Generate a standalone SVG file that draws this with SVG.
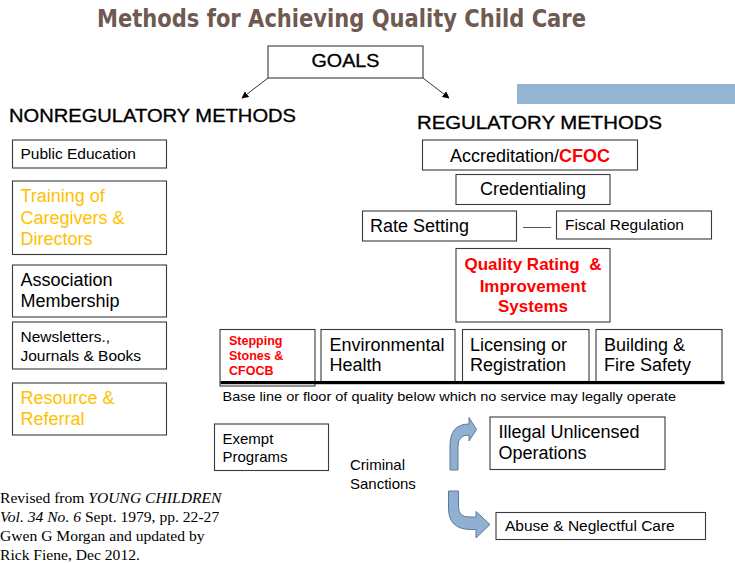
<svg xmlns="http://www.w3.org/2000/svg" width="735" height="563" viewBox="0 0 735 563">
<defs>
<style>
.box{fill:#fff;stroke:#3a3a3a;stroke-width:1.1}
.t{font-family:"Liberation Sans",Arial,sans-serif;fill:#000}
.s15{font-size:15px}
.s155{font-size:15.5px}
.s18{font-size:18px}
.or{fill:#FFC000}
.red{fill:#FF0000}
.b{font-weight:bold}
.h{font-family:"Liberation Sans",Arial,sans-serif;font-size:19px;fill:#000;stroke:#000;stroke-width:0.35}
.cit{font-family:"Liberation Serif","Times New Roman",serif;font-size:15.6px;fill:#000}
.barrow{fill:#8fb0d1;stroke:#5b7b9b;stroke-width:1}
</style>
<marker id="ah" viewBox="0 0 10 10" refX="9" refY="5" markerWidth="7" markerHeight="7" orient="auto" markerUnits="userSpaceOnUse">
<path d="M0,0 L10,5 L0,10 Z" fill="#000"/>
</marker>
</defs>
<rect width="735" height="563" fill="#fff"/>

<text x="97" y="27" font-family="'DejaVu Sans Condensed','DejaVu Sans',sans-serif" font-weight="bold" font-size="25" fill="#6e5a51" textLength="489" lengthAdjust="spacingAndGlyphs">Methods for Achieving Quality Child Care</text>

<rect x="517" y="84" width="218" height="20" fill="#94b4d3"/>

<g id="goals">
<rect class="box" x="268" y="46" width="155" height="32"/>
<text class="h" x="345.5" y="67" text-anchor="middle" textLength="68" lengthAdjust="spacingAndGlyphs">GOALS</text>
</g>

<g id="heading-nonreg">
<text class="h" x="9" y="122" textLength="287" lengthAdjust="spacingAndGlyphs">NONREGULATORY METHODS</text>
</g>
<g id="heading-reg">
<text class="h" x="417" y="128.5" textLength="245" lengthAdjust="spacingAndGlyphs">REGULATORY METHODS</text>
</g>

<g id="connectors">
<line x1="268" y1="78" x2="242" y2="98" stroke="#333" stroke-width="1" marker-end="url(#ah)"/>
<line x1="423" y1="78" x2="449" y2="98" stroke="#333" stroke-width="1" marker-end="url(#ah)"/>
<line x1="523" y1="227.5" x2="551" y2="227.5" stroke="#555" stroke-width="1"/>
<path class="barrow" d="M450,470 L450,446 Q450,424 469,424 L469,417.5 L476.5,429.5 L469,441 L469,435 Q458,435 458,446 L458,470 Z"/>
<path class="barrow" d="M448.5,491 L458.5,491 L458.5,507 Q458.5,517 469,517 L476,517 L476,511.5 L490,524.5 L476,538 L476,529.5 L471,529.5 Q448.5,529.5 448.5,508 Z"/>
</g>

<g id="public-education">
<rect class="box" x="12.5" y="140" width="154" height="28"/>
<text class="t s155" x="20.5" y="159">Public Education</text>
</g>
<g id="training">
<rect class="box" x="12.5" y="181" width="154" height="73.5"/>
<text class="t s18 or" x="20.5" y="202">Training of</text>
<text class="t s18 or" x="20.5" y="223.5">Caregivers &amp;</text>
<text class="t s18 or" x="20.5" y="245">Directors</text>
</g>
<g id="association">
<rect class="box" x="12.5" y="265" width="154" height="52"/>
<text class="t s18" x="20.5" y="286">Association</text>
<text class="t s18" x="20.5" y="307">Membership</text>
</g>
<g id="newsletters">
<rect class="box" x="12.5" y="322" width="154" height="47"/>
<text class="t s155" x="20.5" y="342">Newsletters.,</text>
<text class="t s155" x="20.5" y="360.5">Journals &amp; Books</text>
</g>
<g id="resource">
<rect class="box" x="12.5" y="383" width="154" height="52"/>
<text class="t s18 or" x="20.5" y="404">Resource &amp;</text>
<text class="t s18 or" x="20.5" y="425">Referral</text>
</g>

<g id="accreditation">
<rect class="box" x="422.5" y="140" width="215" height="30"/>
<text class="t s18" x="530" y="161.5" text-anchor="middle">Accreditation/<tspan class="red b">CFOC</tspan></text>
</g>
<g id="credentialing">
<rect class="box" x="456" y="174.5" width="154" height="30"/>
<text class="t s18" x="533" y="195" text-anchor="middle">Credentialing</text>
</g>
<g id="rate-setting">
<rect class="box" x="362.5" y="211" width="154" height="30"/>
<text class="t s18" x="370" y="232">Rate Setting</text>
</g>
<g id="fiscal-regulation">
<rect class="box" x="556.5" y="211" width="155" height="28"/>
<text class="t s155" x="565" y="230">Fiscal Regulation</text>
</g>
<g id="qris">
<rect class="box" x="456" y="248.5" width="154" height="73.5"/>
<text class="t b red" font-size="17" x="533" y="269.5" text-anchor="middle" xml:space="preserve">Quality Rating  &amp;</text>
<text class="t b red" font-size="17" x="533" y="291.5" text-anchor="middle">Improvement</text>
<text class="t b red" font-size="17" x="533" y="311.5" text-anchor="middle">Systems</text>
</g>

<g id="stepping-stones">
<rect class="box" x="220" y="329.5" width="95" height="56.5"/>
<text class="t b red" font-size="12.5" x="229" y="345">Stepping</text>
<text class="t b red" font-size="12.5" x="229" y="360">Stones &amp;</text>
<text class="t b red" font-size="12.5" x="229" y="375">CFOCB</text>
</g>
<g id="environmental-health">
<rect class="box" x="321" y="329.5" width="134" height="52"/>
<text class="t s18" x="329.5" y="350.5">Environmental</text>
<text class="t s18" x="329.5" y="370.5">Health</text>
</g>
<g id="licensing">
<rect class="box" x="462.5" y="329.5" width="126.5" height="52"/>
<text class="t s18" x="470" y="350.5">Licensing or</text>
<text class="t s18" x="470" y="370.5">Registration</text>
</g>
<g id="building">
<rect class="box" x="596" y="329.5" width="126" height="52"/>
<text class="t s18" x="604" y="350.5">Building &amp;</text>
<text class="t s18" x="604" y="370.5">Fire Safety</text>
</g>
<g id="baseline">
<rect x="220.5" y="381" width="504" height="3.2" fill="#000"/>
<text class="t" font-size="13.5" x="222.5" y="401" textLength="453.5" lengthAdjust="spacingAndGlyphs">Base line or floor of quality below which no service may legally operate</text>
</g>

<g id="exempt">
<rect class="box" x="214.5" y="424" width="114" height="46.5"/>
<text class="t s15" x="222.5" y="443.5">Exempt</text>
<text class="t s15" x="222.5" y="462">Programs</text>
</g>
<g id="criminal-sanctions">
<text class="t s15" x="350" y="469.5">Criminal</text>
<text class="t s15" x="350" y="488.5">Sanctions</text>
</g>
<g id="illegal">
<rect class="box" x="490" y="417" width="175" height="52.5"/>
<text class="t s18" x="498.5" y="437.5">Illegal Unlicensed</text>
<text class="t s18" x="498.5" y="458.5">Operations</text>
</g>
<g id="abuse">
<rect class="box" x="496" y="512.5" width="209.5" height="27"/>
<text class="t s155" x="505" y="530.5">Abuse &amp; Neglectful Care</text>
</g>

<g id="citation">
<text class="cit" x="0" y="503">Revised from <tspan font-style="italic">YOUNG CHILDREN</tspan></text>
<text class="cit" x="0" y="522"><tspan font-style="italic">Vol. 34 No. 6</tspan> Sept. 1979, pp. 22-27</text>
<text class="cit" x="0" y="541">Gwen G Morgan and updated by</text>
<text class="cit" x="0" y="560">Rick Fiene, Dec 2012.</text>
</g>
</svg>
